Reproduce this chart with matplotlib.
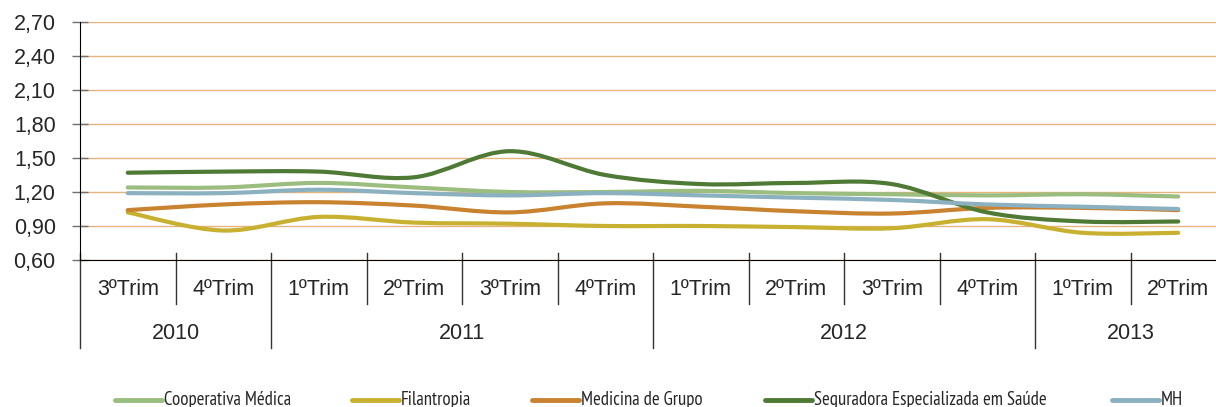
import numpy as np
import matplotlib
matplotlib.use("Agg")
import matplotlib.pyplot as plt
from matplotlib.path import Path
from matplotlib.patches import PathPatch
from matplotlib.lines import Line2D
import matplotlib.transforms as mtransforms

plt.rcParams['font.family'] = ['Liberation Sans', 'DejaVu Sans']

# categories (two-level axis)
quarters = ['3ºTrim', '4ºTrim', '1ºTrim', '2ºTrim', '3ºTrim', '4ºTrim',
            '1ºTrim', '2ºTrim', '3ºTrim', '4ºTrim', '1ºTrim', '2ºTrim']
years = ['2010', '2011', '2012', '2013']
quarters_per_year = [2, 4, 4, 2]

# series values
cooperativa = [1.24, 1.24, 1.28, 1.24, 1.20, 1.20, 1.21, 1.19, 1.18, 1.17, 1.18, 1.16]
filantropia = [1.02, 0.86, 0.98, 0.93, 0.92, 0.90, 0.90, 0.89, 0.88, 0.96, 0.84, 0.84]
medicina = [1.04, 1.09, 1.11, 1.08, 1.02, 1.10, 1.07, 1.03, 1.01, 1.06, 1.06, 1.04]
seguradora = [1.37, 1.38, 1.38, 1.33, 1.56, 1.35, 1.27, 1.28, 1.27, 1.02, 0.94, 0.94]
mh = [1.19, 1.19, 1.22, 1.19, 1.17, 1.19, 1.17, 1.15, 1.13, 1.09, 1.07, 1.05]

names = ['Cooperativa Médica', 'Filantropia', 'Medicina de Grupo',
         'Seguradora Especializada em Saúde', 'MH']
series = [cooperativa, filantropia, medicina, seguradora, mh]
colors = ['#9cbd80', '#c8b030', '#c98230', '#4e7a35', '#8bb1c1']

yticks = [0.60, 0.90, 1.20, 1.50, 1.80, 2.10, 2.40, 2.70]


def smooth_path(x, y):
    # cubic bezier through the points (Excel-like smoothed line)
    pts = np.column_stack([x, y])
    verts = [pts[0]]
    codes = [Path.MOVETO]
    n = len(pts)
    for i in range(n - 1):
        p0 = pts[i - 1] if i > 0 else pts[i]
        p1 = pts[i]
        p2 = pts[i + 1]
        p3 = pts[i + 2] if i + 2 < n else pts[i + 1]
        c1 = p1 + (p2 - p0) / 6
        c2 = p2 - (p3 - p1) / 6
        verts += [c1, c2, p2]
        codes += [Path.CURVE4] * 3
    return Path(verts, codes)


fig = plt.figure(figsize=(12.16, 4.07), dpi=100)
ax = fig.add_axes([80 / 1216, 1 - 260 / 407, 1146 / 1216, 238 / 407])

x = np.arange(len(quarters)) + 0.5
for vals, c in zip(series, colors):
    patch = PathPatch(smooth_path(x, np.array(vals)), facecolor='none',
                      edgecolor=c, lw=3.0, capstyle='round', joinstyle='round')
    ax.add_patch(patch)

ax.set_xlim(0, len(quarters))
ax.set_ylim(0.60, 2.70)
ax.set_yticks(yticks)
ax.set_yticklabels([f'{v:.2f}'.replace('.', ',') for v in yticks])
ax.yaxis.grid(True, color='#e6b47c', lw=1)
ax.set_axisbelow(True)
ax.set_xticks([])
ax.tick_params(axis='y', direction='inout', length=11, width=1,
               color='#707070', pad=12, labelsize=15.5, labelcolor='#262626')
for s in ['top', 'right']:
    ax.spines[s].set_visible(False)
ax.spines['left'].set_color('black')
ax.spines['bottom'].set_color('black')

# two-level category axis
trans = mtransforms.blended_transform_factory(ax.transData, ax.transAxes)
year_edges = np.concatenate([[0], np.cumsum(quarters_per_year)])
for i in range(len(quarters)):
    if i in year_edges:
        ax.plot([i, i], [0.03, -0.37], color='#333333', lw=1, transform=trans, clip_on=False)
    else:
        ax.plot([i, i], [0.03, -0.185], color='#333333', lw=1, transform=trans, clip_on=False)
for xi, q in zip(x, quarters):
    ax.text(xi, -0.126, q, transform=trans, ha='center', va='center',
            fontsize=15.5, color='#262626')
for j, yr in enumerate(years):
    mid = (year_edges[j] + year_edges[j + 1]) / 2
    ax.text(mid, -0.307, yr, transform=trans, ha='center', va='center',
            fontsize=15.5, color='#262626')

# legend
leg_x = [115, 352, 532, 765, 1112]
ly = 1 - 400 / 407
for lx, name, c in zip(leg_x, names, colors):
    fig.add_artist(Line2D([lx / 1216, (lx + 47) / 1216], [ly, ly], color=c,
                          lw=3.5, solid_capstyle='round', transform=fig.transFigure))
    fig.text((lx + 49) / 1216, ly, name, ha='left', va='center',
             fontsize=13.5, color='#262626',
             family=['PT Sans Narrow', 'Roboto Condensed', 'Liberation Sans', 'DejaVu Sans'])

fig.savefig('out.png', dpi=100)
